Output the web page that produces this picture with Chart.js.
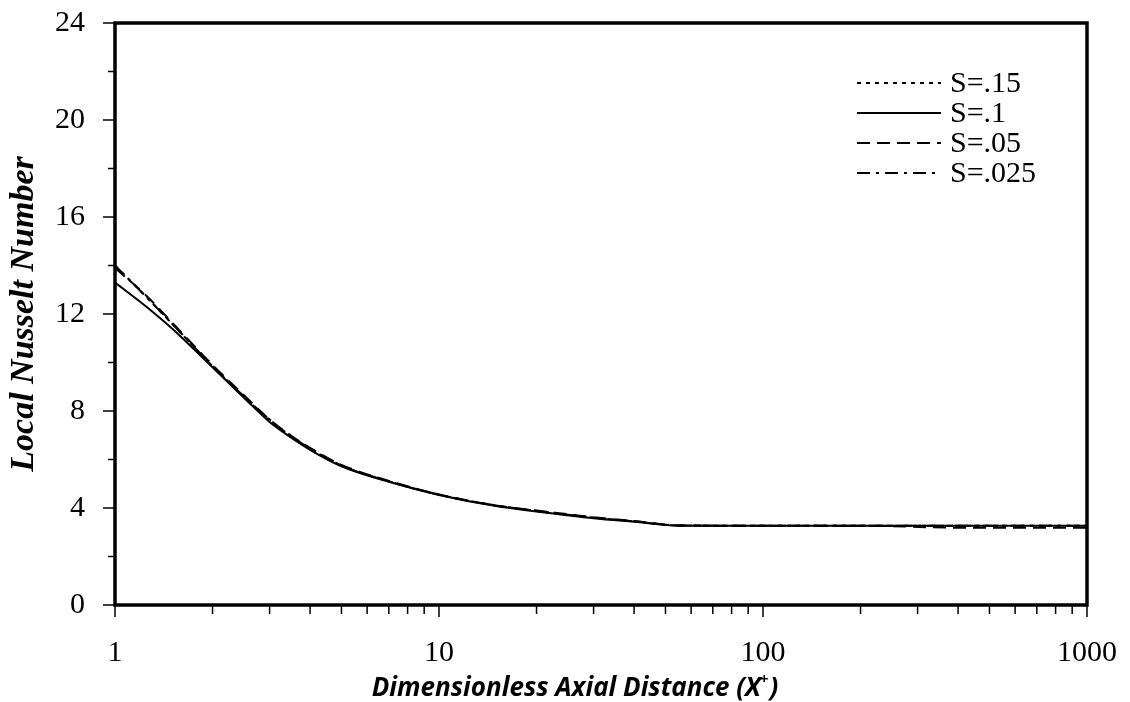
<!DOCTYPE html>
<html>
<head>
<meta charset="utf-8">
<script src="https://cdn.jsdelivr.net/npm/chart.js@4.4.1/dist/chart.umd.min.js"></script>
<style>
  html, body { margin: 0; padding: 0; background: #fff; }
  #wrap { width: 1130px; height: 702px; }
</style>
</head>
<body>
<div id="wrap"><canvas id="nuChart" width="1130" height="702"></canvas></div>
<script>
// axial positions (X+) shared by all curves
const xPlus = [1, 1.25, 1.5, 2, 2.5, 3, 3.5, 4, 5, 7, 10, 15, 20, 30, 40, 55, 100, 200, 400, 1000];

// local Nusselt number for each S
const nuS015  = [14.0, 12.7, 11.6, 9.85, 8.6, 7.65, 6.95, 6.45, 5.75, 5.1, 4.55, 4.1, 3.88, 3.6, 3.45, 3.28, 3.27, 3.27, 3.27, 3.27];
const nuS01   = [13.3, 12.3, 11.4, 9.8, 8.55, 7.55, 6.9, 6.4, 5.72, 5.08, 4.54, 4.08, 3.86, 3.58, 3.43, 3.27, 3.27, 3.27, 3.27, 3.27];
const nuS005  = [13.9, 12.75, 11.65, 9.9, 8.65, 7.65, 6.98, 6.48, 5.78, 5.12, 4.56, 4.1, 3.9, 3.62, 3.46, 3.28, 3.27, 3.27, 3.19, 3.19];
const nuS0025 = [14.0, 12.7, 11.6, 9.85, 8.6, 7.6, 6.95, 6.45, 5.75, 5.1, 4.55, 4.1, 3.88, 3.6, 3.45, 3.28, 3.27, 3.27, 3.27, 3.27];

const seriesLabels = ['S=.15', 'S=.1', 'S=.05', 'S=.025'];
const xTickValues = [1, 10, 100, 1000];
const yTickStep = 4;

const pts = ys => xPlus.map((x, i) => ({ x, y: ys[i] }));

const serif = "'Liberation Serif', 'Times New Roman', serif";
const sans = "'Open Sans', sans-serif";

// box, minor ticks, legend and x title
const decorPlugin = {
  id: 'decor',
  afterDraw(chart) {
    const { ctx, chartArea: a, scales } = chart;
    ctx.save();
    ctx.strokeStyle = '#000';

    // y ticks
    ctx.lineWidth = 1.5;
    for (let v = 0; v <= 24; v += 2) {
      const y = scales.y.getPixelForValue(v);
      const len = v % 4 === 0 ? 12 : 7;
      ctx.beginPath(); ctx.moveTo(a.left - len, y); ctx.lineTo(a.left, y); ctx.stroke();
    }
    // x ticks
    for (let d = 1; d <= 1000; d *= 10) {
      for (let m = 1; m <= 9; m++) {
        const v = d * m;
        if (v > 1000) break;
        const x = scales.x.getPixelForValue(v);
        const len = m === 1 ? 12 : 9;
        ctx.beginPath(); ctx.moveTo(x, a.bottom); ctx.lineTo(x, a.bottom + len); ctx.stroke();
      }
    }

    // frame
    ctx.lineWidth = 3.5;
    ctx.strokeRect(a.left, a.top, a.right - a.left, a.bottom - a.top);

    // legend
    ctx.font = '30px ' + serif;
    ctx.fillStyle = '#000';
    ctx.textBaseline = 'middle';
    ctx.textAlign = 'left';
    const rowY = [83, 113, 143, 173];
    chart.data.datasets.forEach((ds, i) => {
      const y = rowY[i];
      ctx.lineWidth = 2;
      ctx.setLineDash(ds.borderDash || []);
      ctx.beginPath(); ctx.moveTo(857, y); ctx.lineTo(941, y); ctx.stroke();
      ctx.setLineDash([]);
      ctx.fillText(ds.label, 950, y + 1);
    });

    // x title with superscript
    const big = 'italic bold 26px ' + sans, small = 'italic bold 15px ' + sans;
    const main = 'Dimensionless Axial Distance (X';
    ctx.font = big;
    const w1 = ctx.measureText(main).width;
    const wc = ctx.measureText(')').width;
    ctx.font = small;
    const wp = ctx.measureText('+').width;
    const x0 = 575 - (w1 + wp + wc) / 2;
    ctx.textBaseline = 'alphabetic';
    ctx.font = big;
    ctx.fillText(main, x0, 696);
    ctx.font = small;
    ctx.fillText('+', x0 + w1 - 1, 684);
    ctx.font = big;
    ctx.fillText(')', x0 + w1 + wp, 696);
    ctx.restore();
  }
};

new Chart(document.getElementById('nuChart'), {
  type: 'line',
  data: {
    datasets: [
      { label: seriesLabels[0], data: pts(nuS015),  borderDash: [4, 5] },
      { label: seriesLabels[1], data: pts(nuS01),   borderDash: [] },
      { label: seriesLabels[2], data: pts(nuS005),  borderDash: [13, 7] },
      { label: seriesLabels[3], data: pts(nuS0025), borderDash: [13, 6, 3, 6] }
    ].map(d => Object.assign(d, {
      borderColor: '#000', borderWidth: 2, pointRadius: 0,
      cubicInterpolationMode: 'monotone', fill: false
    }))
  },
  options: {
    responsive: false,
    animation: false,
    layout: { padding: { top: 23, right: 43, left: 0, bottom: 0 } },
    plugins: { legend: { display: false }, tooltip: { enabled: false } },
    scales: {
      x: {
        type: 'logarithmic',
        min: 1, max: 1000,
        afterBuildTicks: s => { s.ticks = xTickValues.map(v => ({ value: v })); },
        afterFit: s => { s.height = 97; s.paddingLeft = 0; s.paddingRight = 0; },
        ticks: {
          color: '#000', padding: 30, maxRotation: 0,
          font: { family: serif, size: 30 },
          callback: v => String(v)
        },
        grid: { drawOnChartArea: false, drawTicks: false },
        border: { display: false }
      },
      y: {
        min: 0, max: 24,
        afterFit: s => { s.width = 115; s.paddingTop = 0; s.paddingBottom = 0; },
        ticks: {
          stepSize: yTickStep, color: '#000', padding: 30,
          font: { family: serif, size: 30 }
        },
        grid: { drawOnChartArea: false, drawTicks: false },
        border: { display: false },
        title: {
          display: true, text: 'Local Nusselt Number', color: '#000',
          font: { family: serif, size: 34, style: 'italic', weight: 'bold' },
          padding: { top: 4, bottom: 0 }
        }
      }
    }
  },
  plugins: [decorPlugin]
});
</script>
</body>
</html>
